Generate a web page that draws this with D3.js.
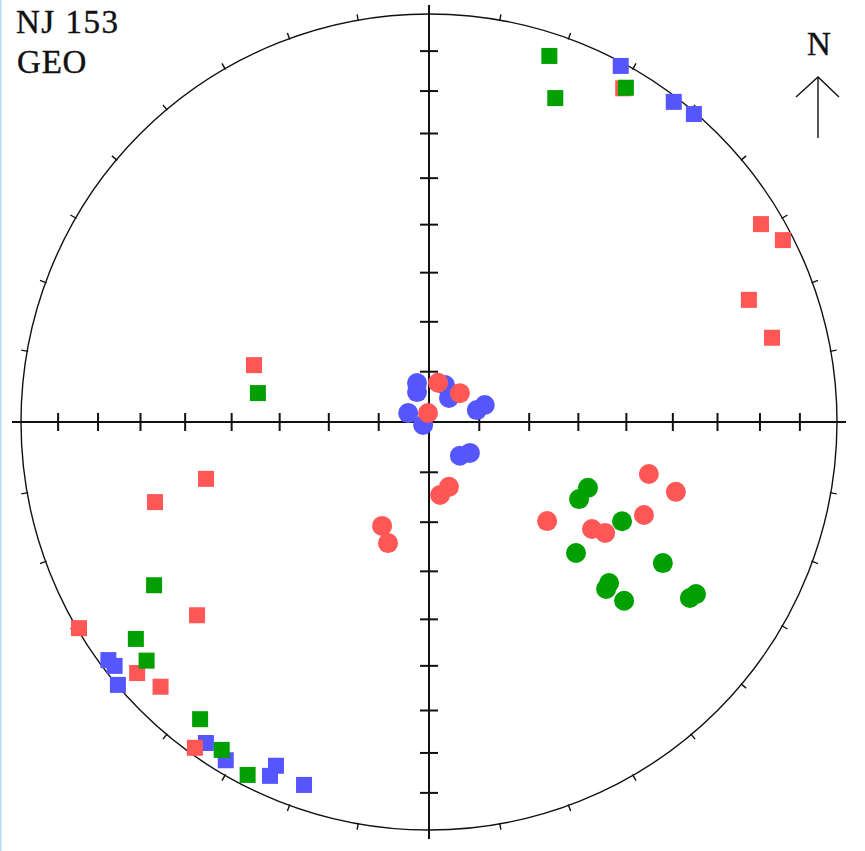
<!DOCTYPE html>
<html>
<head>
<meta charset="utf-8">
<script src="https://cdn.jsdelivr.net/npm/d3@7/dist/d3.min.js"></script>
<style>
  html, body { margin: 0; padding: 0; background: #ffffff; }
  svg { display: block; }
</style>
</head>
<body>
<script>
// Equal-area stereonet of remanence directions, specimen NJ 153, geographic coordinates.
// Each entry is [declination, inclination] in degrees; negative inclination = upper hemisphere (squares).
const siteLabel = "NJ 153";
const frameLabel = "GEO";

const blueUpper = [
  [28.3, -1.0], [37.4, -1.4], [40.7, -0.5],
  [233.4, -2.4], [232.2, -2.8], [229.8, -0.2],
  [214.8, -4.7], [211.0, -3.7], [204.0, -8.6], [204.2, -5.5], [199.0, -6.6]
];
const redUpper = [
  [288.0, -52.8], [255.7, -43.0], [253.7, -30.7], [230.2, -26.9],
  [239.5, -0.5], [229.3, -6.3], [225.4, -8.4], [215.7, -1.9],
  [30.2, -6.0], [59.2, -5.9], [62.8, -2.8], [69.1, -17.2], [76.2, -14.5]
];
const greenUpper = [
  [18.2, -6.2], [21.3, -15.9], [30.5, -5.5],
  [279.6, -55.0], [239.3, -22.7], [233.5, -11.6], [229.8, -10.3],
  [217.6, -8.9], [212.3, -5.5], [207.2, -3.1]
];
const blueLower = [
  [342.9, 81.9], [338.2, 83.6], [23.4, 82.0], [39.8, 83.8],
  [293.2, 85.5], [243.4, 88.7], [76.0, 80.2], [73.1, 78.4],
  [137.6, 80.9], [127.1, 79.8]
];
const redLower = [
  [13.0, 82.0], [46.9, 81.6], [353.7, 88.2],
  [171.4, 75.3], [162.9, 76.5], [204.3, 67.2], [198.7, 64.4],
  [103.3, 43.9], [105.8, 37.2], [130.0, 59.0], [123.3, 50.5], [122.2, 47.7], [113.4, 42.1]
];
const greenLower = [
  [112.5, 55.3], [117.2, 56.0], [117.2, 45.8], [131.7, 50.1], [121.1, 33.5],
  [131.8, 40.5], [133.3, 40.1], [132.5, 35.4], [122.8, 23.2], [124.0, 23.9]
];

const plungeTicks = [10, 20, 30, 40, 50, 60, 70, 80];
const azimuthTicks = d3.range(10, 360, 10).filter(a => a % 90 !== 0);

const W = 865, H = 851;
const cx = 429, cy = 422, R = 408;
const colors = { red: "#ff5656", green: "#00a000", blue: "#5656ff" };

// Unit-disk scales for the net
const x = d3.scaleLinear().domain([-1, 1]).range([cx - R, cx + R]);
const y = d3.scaleLinear().domain([-1, 1]).range([cy + R, cy - R]);

const rad = d => d * Math.PI / 180;
// Lambert equal-area distance (0 at centre, 1 at the primitive)
const eaDist = inc => Math.SQRT2 * Math.sin(rad((90 - Math.abs(inc)) / 2));
const project = ([dec, inc]) => {
  const r = eaDist(inc);
  return [x(r * Math.sin(rad(dec))), y(r * Math.cos(rad(dec)))];
};

const svg = d3.select("body").append("svg")
  .attr("width", W).attr("height", H)
  .style("font-family", "'Liberation Serif', 'Times New Roman', serif");

svg.append("rect").attr("width", W).attr("height", H).attr("fill", "#ffffff");
svg.append("rect").attr("x", 0).attr("y", 0).attr("width", 1.5).attr("height", H).attr("fill", "#b4def4");

// Primitive circle
svg.append("circle").attr("cx", x(0)).attr("cy", y(0)).attr("r", x(1) - x(0))
  .attr("fill", "none").attr("stroke", "#111").attr("stroke-width", 1.4);

// Cross axes, running a little past the primitive
const ext = 9 / R;
const axes = svg.append("g").attr("stroke", "#111").attr("stroke-width", 2);
axes.append("line").attr("x1", x(-1 - ext)).attr("x2", x(1 + ext)).attr("y1", y(0)).attr("y2", y(0));
axes.append("line").attr("x1", x(0)).attr("x2", x(0)).attr("y1", y(1 + ext)).attr("y2", y(-1 - ext));

// Plunge ticks along the four arms
const tl = 9;
const armTicks = [];
plungeTicks.forEach(p => {
  const d = eaDist(p);
  armTicks.push({ x1: x(d), y1: y(0) - tl, x2: x(d), y2: y(0) + tl });
  armTicks.push({ x1: x(-d), y1: y(0) - tl, x2: x(-d), y2: y(0) + tl });
  armTicks.push({ x1: x(0) - tl, y1: y(d), x2: x(0) + tl, y2: y(d) });
  armTicks.push({ x1: x(0) - tl, y1: y(-d), x2: x(0) + tl, y2: y(-d) });
});
axes.selectAll("line.arm").data(armTicks).join("line").attr("class", "arm")
  .attr("x1", d => d.x1).attr("y1", d => d.y1).attr("x2", d => d.x2).attr("y2", d => d.y2);

// Azimuth ticks on the primitive
svg.append("g").attr("stroke", "#111").attr("stroke-width", 1.4)
  .selectAll("line").data(azimuthTicks).join("line")
  .attr("x1", a => x(Math.sin(rad(a)) * (1 - 1 / R)))
  .attr("y1", a => y(Math.cos(rad(a)) * (1 - 1 / R)))
  .attr("x2", a => x(Math.sin(rad(a)) * (1 + 6 / R)))
  .attr("y2", a => y(Math.cos(rad(a)) * (1 + 6 / R)));

// Directions
const sq = 16, cr = 10;
const drawSquares = (data, color) => {
  svg.append("g").selectAll("rect").data(data).join("rect")
    .attr("x", d => project(d)[0] - sq / 2)
    .attr("y", d => project(d)[1] - sq / 2)
    .attr("width", sq).attr("height", sq)
    .attr("fill", color);
};
const drawCircles = (data, color) => {
  svg.append("g").selectAll("circle").data(data).join("circle")
    .attr("cx", d => project(d)[0])
    .attr("cy", d => project(d)[1])
    .attr("r", cr)
    .attr("fill", color);
};
drawSquares(blueUpper, colors.blue);
drawCircles(blueLower, colors.blue);
drawSquares(redUpper, colors.red);
drawCircles(redLower, colors.red);
drawSquares(greenUpper, colors.green);
drawCircles(greenLower, colors.green);

// Labels
const label = (tx, ty, txt, ls) => svg.append("text")
  .attr("x", tx).attr("y", ty).attr("font-size", 33).attr("letter-spacing", ls)
  .attr("fill", "#111").attr("stroke", "#111").attr("stroke-width", 0.4).text(txt);
label(16, 33, siteLabel, 1.5);
label(17, 72.5, frameLabel, 0.8);

// North arrow
const nx = 818;
svg.append("text").attr("x", nx + 1).attr("y", 55).attr("font-size", 33).attr("text-anchor", "middle")
  .attr("fill", "#111").attr("stroke", "#111").attr("stroke-width", 0.4).text("N");
const arrow = svg.append("g").attr("stroke", "#111").attr("stroke-width", 1.4).attr("fill", "none");
arrow.append("line").attr("x1", nx).attr("x2", nx).attr("y1", 77).attr("y2", 138);
arrow.append("polyline").attr("points", `${nx - 22},97 ${nx},77 ${nx + 21},97`);
</script>
</body>
</html>
